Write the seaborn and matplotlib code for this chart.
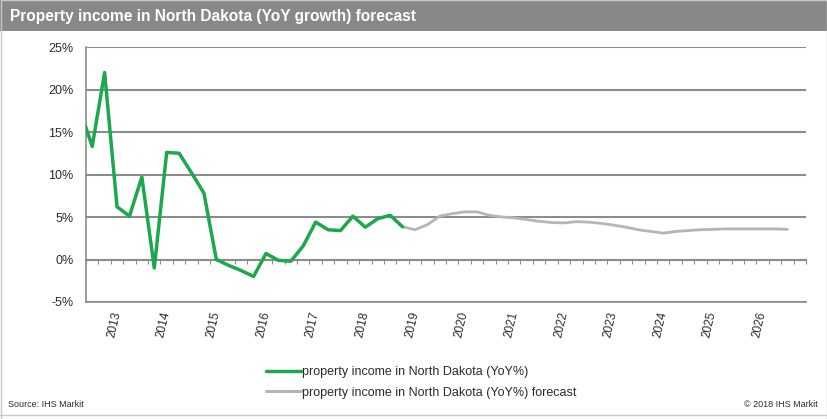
import matplotlib
matplotlib.use("Agg")
import matplotlib.pyplot as plt
import seaborn as sns
import pandas as pd
import numpy as np
from matplotlib.patches import Rectangle
from matplotlib.lines import Line2D

# Quarterly YoY growth of property income, North Dakota (%)
actual_start = "2012Q2"
actual_values = [17.7, 13.3, 22.0, 6.2, 5.1, 9.7, -1.0, 12.6, 12.5, 10.2, 7.8,
                 0.0, -0.7, -1.3, -2.0, 0.7, -0.1, -0.2, 1.6, 4.4, 3.5, 3.4,
                 5.1, 3.8, 4.8, 5.2, 3.85]
forecast_start = "2018Q4"
forecast_values = [3.85, 3.5, 4.1, 5.1, 5.4, 5.6, 5.6, 5.2, 5.0, 4.9, 4.7, 4.5,
                   4.35, 4.3, 4.45, 4.4, 4.25, 4.05, 3.8, 3.5, 3.3, 3.1, 3.3,
                   3.4, 3.5, 3.55, 3.6, 3.6, 3.6, 3.6, 3.6, 3.55]
year_labels = [str(y) for y in range(2013, 2027)]
y_ticks = [-5, 0, 5, 10, 15, 20, 25]

label_actual = "property income in North Dakota (YoY%)"
label_forecast = "property income in North Dakota (YoY%) forecast"
title = "Property income in North Dakota (YoY growth) forecast"

origin = pd.Period("2012Q3", freq="Q")


def quarter_index(start, n):
    periods = pd.period_range(start, periods=n, freq="Q")
    return [(p - origin).n for p in periods]


df_a = pd.DataFrame({"q": quarter_index(actual_start, len(actual_values)),
                     "v": actual_values})
df_f = pd.DataFrame({"q": quarter_index(forecast_start, len(forecast_values)),
                     "v": forecast_values})

sns.set_style("white")
plt.rcParams["font.family"] = ["Liberation Sans", "DejaVu Sans"]

W, H = 827, 419
fig = plt.figure(figsize=(W / 100, H / 100), dpi=100)
ax = fig.add_axes([86 / W, 1 - 302 / H, (806 - 86) / W, (302 - 47) / H])

green = "#1ca84c"
grey = "#b5b5b5"
axis_grey = "#8c8c8c"
text_col = "#2b2b2b"

sns.lineplot(data=df_f, x="q", y="v", ax=ax, color=grey, lw=2.0, zorder=3)
sns.lineplot(data=df_a, x="q", y="v", ax=ax, color=green, lw=2.5, zorder=4)

ax.set_xlim(-0.5, 57.5)
ax.set_ylim(-5, 25)
ax.set_xlabel("")
ax.set_ylabel("")

ax.set_yticks(y_ticks)
ax.set_yticklabels([f"{t}%" for t in y_ticks], fontsize=9, color=text_col)
ax.yaxis.grid(True, color=axis_grey, lw=1.5)
ax.tick_params(axis="y", length=2, color=axis_grey, pad=7)

year_pos = [4 * (int(y) - 2012) - 2 for y in year_labels]
ax.set_xticks(year_pos)
ax.set_xticklabels(year_labels, rotation=77, ha="right", va="center",
                   rotation_mode="anchor", fontsize=8.5, color=text_col)
ax.tick_params(axis="x", length=0, pad=7)

for side in ["top", "right"]:
    ax.spines[side].set_visible(False)
for side in ["left", "bottom"]:
    ax.spines[side].set_color(axis_grey)
    ax.spines[side].set_linewidth(1.2)

# zero line with quarterly tick marks
zero_axis = ax.secondary_xaxis(5 / 30)
zero_axis.set_xticks(np.arange(-0.5, 58, 1))
zero_axis.tick_params(length=3, color=axis_grey, labelbottom=False, direction="out")
zero_axis.spines["bottom"].set_color(axis_grey)
zero_axis.spines["bottom"].set_linewidth(1.5)

# title band
fig.patches.append(Rectangle((0, 1 - 31 / H), 1, 31 / H, transform=fig.transFigure,
                             facecolor="#888888", edgecolor="none", zorder=0))
fig.text(10 / W, 1 - 16 / H, title, color="white", fontsize=11.2,
         fontweight="bold", va="center", ha="left")

# outer frame and footer rule
fig.patches.append(Rectangle((0.5 / W, 0.5 / H), 1 - 1 / W, 1 - 1 / H,
                             transform=fig.transFigure, fill=False,
                             edgecolor="#c8c8c8", lw=1, zorder=0))
fig.lines.append(Line2D([0, 1], [1 - 415 / H] * 2, transform=fig.transFigure,
                        color="#c8c8c8", lw=1))

fig.text(8 / W, 1 - 404 / H, "Source: IHS Markit", fontsize=6.5,
         color=text_col, va="center", ha="left")
fig.text(818 / W, 1 - 404 / H, "\u00a9 2018 IHS Markit", fontsize=6.5,
         color=text_col, va="center", ha="right")

handles = [Line2D([], [], color=green, lw=2.5), Line2D([], [], color=grey, lw=2.2)]
fig.legend(handles, [label_actual, label_forecast], loc="upper left",
           bbox_to_anchor=(266 / W, 1 - 366 / H), frameon=False, fontsize=9,
           handlelength=2.8, handletextpad=0.1, labelspacing=0.68,
           labelcolor=text_col, borderaxespad=0, borderpad=0)

fig.savefig("out.png", dpi=100)
